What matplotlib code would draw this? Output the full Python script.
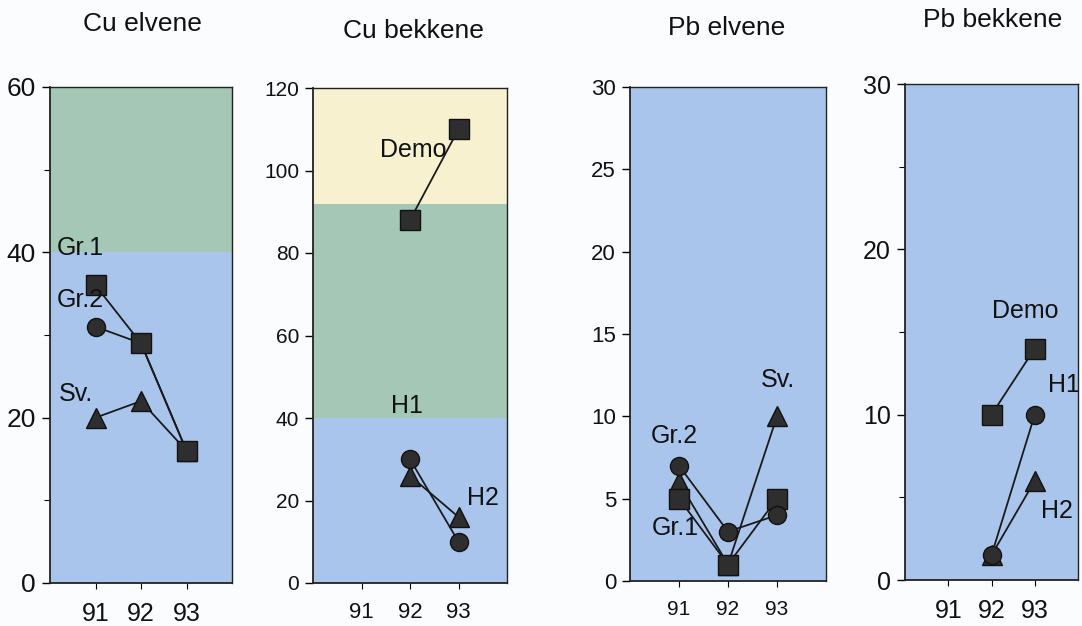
import matplotlib.pyplot as plt
from matplotlib.ticker import MultipleLocator

plt.rcParams['font.family'] = ['Liberation Sans', 'DejaVu Sans']

years = [91, 92, 93]

# Cu elvene
cu_elv_gr1 = [36, 29, 16]
cu_elv_gr2 = [31, 29, 16]
cu_elv_sv = [20, 22, 16]

# Cu bekkene (only 92, 93)
cu_bek_years = [92, 93]
cu_bek_demo = [88, 110]
cu_bek_h1 = [30, 10]
cu_bek_h2 = [26, 16]

# Pb elvene
pb_elv_gr1 = [5, 1, 5]
pb_elv_gr2 = [7, 3, 4]
pb_elv_sv = [6, 1, 10]

# Pb bekkene
pb_bek_years = [92, 93]
pb_bek_demo = [10, 14]
pb_bek_h1 = [1.5, 10]
pb_bek_h2 = [1.5, 6]

titles = ["Cu elvene", "Cu bekkene", "Pb elvene", "Pb bekkene"]

blue = '#aac5ec'
green = '#a5c7b6'
yellow = '#f7f1cf'
mk = '#2e2e2e'
lab = 18  # size of the series labels

W, H = 1082, 626
fig = plt.figure(figsize=(W / 100, H / 100), dpi=100)
fig.patch.set_facecolor('#fbfcfd')


def make_ax(l, r, t, b):
    return fig.add_axes([l / W, (H - b) / H, (r - l) / W, (b - t) / H])


def style(ax, ymax, major, minor, ysize, xsize):
    ax.set_xlim(90, 94)
    ax.set_ylim(0, ymax)
    ax.set_xticks(years)
    ax.yaxis.set_major_locator(MultipleLocator(major))
    if minor:
        ax.yaxis.set_minor_locator(MultipleLocator(minor))
    ax.tick_params(axis='y', labelsize=ysize, length=6, width=1, pad=4, labelcolor='#111111')
    ax.tick_params(axis='y', which='minor', length=4, width=0.8)
    ax.tick_params(axis='x', labelsize=xsize, length=4, width=0.8, pad=10, labelcolor='#111111')
    for s in ax.spines.values():
        s.set_linewidth(1.0)
        s.set_color('#222222')
    ax.spines['left'].set_linewidth(1.3)
    ax.spines['bottom'].set_linewidth(1.3)


def series(ax, x, y, marker, ms):
    ax.plot(x, y, color='#1a1a1a', lw=1.3, marker=marker, ms=ms,
            mfc=mk, mec='#111111', zorder=3)


def label(ax, x, y, s):
    ax.text(x, y, s, fontsize=lab, va='center', color='#111111')


# Panel 1
ax1 = make_ax(50, 232, 87, 583)
ax1.axhspan(0, 40, color=blue, lw=0)
ax1.axhspan(40, 60, color=green, lw=0)
series(ax1, years, cu_elv_sv, '^', 14)
series(ax1, years, cu_elv_gr2, 'o', 13)
series(ax1, years, cu_elv_gr1, 's', 14)
style(ax1, 60, 20, 10, 19, 18)
label(ax1, 90.15, 40.5, "Gr.1")
label(ax1, 90.15, 34.2, "Gr.2")
label(ax1, 90.2, 22.9, "Sv.")

# Panel 2
ax2 = make_ax(313, 507, 88, 583)
ax2.axhspan(0, 40, color=blue, lw=0)
ax2.axhspan(40, 92, color=green, lw=0)
ax2.axhspan(92, 120, color=yellow, lw=0)
series(ax2, cu_bek_years, cu_bek_demo, 's', 14)
series(ax2, cu_bek_years, cu_bek_h2, '^', 14)
series(ax2, cu_bek_years, cu_bek_h1, 'o', 13)
style(ax2, 120, 20, None, 15, 16)
label(ax2, 91.38, 105, "Demo")
label(ax2, 91.6, 43, "H1")
label(ax2, 93.18, 20.6, "H2")

# Panel 3
ax3 = make_ax(630, 826, 87, 581)
ax3.axhspan(0, 30, color=blue, lw=0)
series(ax3, years, pb_elv_sv, '^', 14)
series(ax3, years, pb_elv_gr1, 's', 14)
series(ax3, years, pb_elv_gr2, 'o', 13)
style(ax3, 30, 5, None, 16, 15)
label(ax3, 90.42, 8.8, "Gr.2")
label(ax3, 90.45, 3.2, "Gr.1")
label(ax3, 92.67, 12.2, "Sv.")

# Panel 4
ax4 = make_ax(905, 1078, 84, 580)
ax4.axhspan(0, 30, color=blue, lw=0)
series(ax4, pb_bek_years, pb_bek_demo, 's', 14)
series(ax4, pb_bek_years, pb_bek_h2, '^', 14)
series(ax4, pb_bek_years, pb_bek_h1, 'o', 13)
style(ax4, 30, 10, 5, 18, 18)
label(ax4, 92.0, 16.3, "Demo")
label(ax4, 93.3, 11.8, "H1")
label(ax4, 93.15, 4.2, "H2")

# titles
for x, t, y in zip([142, 413, 727, 993], titles, [24, 31, 28, 20]):
    fig.text(x / W, 1 - y / H, t, fontsize=19, ha='center', va='center', color='#111111')

fig.savefig('out.png', dpi=100, facecolor=fig.get_facecolor())
